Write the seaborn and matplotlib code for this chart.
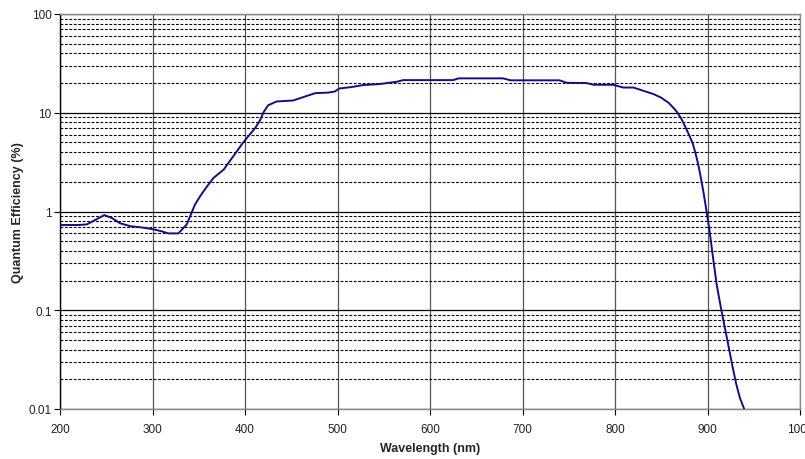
import numpy as np
import pandas as pd
import matplotlib
matplotlib.use("Agg")
import matplotlib.pyplot as plt
import seaborn as sns
from matplotlib.ticker import LogLocator, FixedLocator, FixedFormatter, NullFormatter

wavelength = [200, 210, 220, 229, 238, 248, 256, 265, 276, 288, 301, 310, 317, 328, 337,
              346, 352, 359, 366, 377, 388, 398, 405, 411, 416, 420, 425, 434, 445, 452,
              462, 476, 490, 497, 502, 515, 528, 545, 564, 571, 600, 625, 631, 660, 679,
              687, 710, 740, 748, 769, 777, 798, 809, 820, 834, 842, 850, 858, 864, 868,
              872, 876, 880, 884, 887, 890, 893, 896, 899, 902, 906, 910, 915, 919, 923,
              927, 931, 935, 940]
qe = [0.73, 0.73, 0.73, 0.74, 0.82, 0.92, 0.86, 0.76, 0.71, 0.69, 0.66, 0.63, 0.60, 0.60, 0.74,
      1.18, 1.45, 1.80, 2.19, 2.66, 3.70, 5.0, 6.0, 7.0, 8.3, 10.1, 11.9, 13.0, 13.2, 13.3,
      14.3, 15.8, 16.0, 16.4, 17.6, 18.2, 19.1, 19.5, 20.6, 21.4, 21.4, 21.4, 22.3, 22.3, 22.3,
      21.3, 21.3, 21.3, 20.1, 20.0, 19.2, 19.2, 18.0, 18.0, 16.3, 15.4, 14.2, 12.6, 11.0, 9.9,
      8.6, 7.2, 6.0, 4.9, 3.9, 3.0, 2.15, 1.5, 1.0, 0.66, 0.34, 0.18, 0.10, 0.065, 0.042,
      0.027, 0.018, 0.013, 0.0098]

x_ticks = [200, 300, 400, 500, 600, 700, 800, 900, 1000]
y_ticks = [0.01, 0.1, 1, 10, 100]
y_tick_labels = ["0.01", "0.1", "1", "10", "100"]

df = pd.DataFrame({"Wavelength (nm)": wavelength, "Quantum Efficiency (%)": qe})

sns.set_style("white")
plt.rcParams["font.family"] = ["Liberation Sans", "DejaVu Sans"]

fig = plt.figure(figsize=(8.05, 4.6), dpi=100)
ax = fig.add_axes([60 / 805, 1 - 410 / 460, 740 / 805, 395 / 460])

sns.lineplot(data=df, x="Wavelength (nm)", y="Quantum Efficiency (%)", ax=ax,
             color="#101080", linewidth=1.4, zorder=5)

ax.set_yscale("log")
ax.set_xlim(200, 1000)
ax.set_ylim(0.01, 100)

ax.xaxis.set_major_locator(FixedLocator(x_ticks))
ax.yaxis.set_major_locator(FixedLocator(y_ticks))
ax.yaxis.set_major_formatter(FixedFormatter(y_tick_labels))
ax.yaxis.set_minor_locator(LogLocator(base=10, subs=np.arange(2, 10)))
ax.yaxis.set_minor_formatter(NullFormatter())

ax.grid(True, which="major", axis="x", color="#555555", linewidth=0.9, linestyle="-")
ax.grid(True, which="major", axis="y", color="#000000", linewidth=0.9, linestyle="-")
ax.grid(True, which="minor", axis="y", color="#000000", linewidth=0.8, linestyle=(0, (2.5, 1.5)))
ax.set_axisbelow(True)

ax.tick_params(axis="both", which="major", direction="out", length=4, width=0.8,
               labelsize=8.5, colors="#000000", labelcolor="#222222",
               left=True, bottom=True)
ax.tick_params(axis="x", which="major", pad=6)
ax.tick_params(axis="y", which="major", pad=2)
ax.tick_params(axis="y", which="minor", length=0)

for name, sp in ax.spines.items():
    sp.set_color("#888888")
    sp.set_linewidth(1.0)
ax.spines["left"].set_color("#000000")

ax.set_xlabel("Wavelength (nm)", fontsize=9, fontweight="bold", labelpad=5)
ax.set_ylabel("Quantum Efficiency (%)", fontsize=9, fontweight="bold", labelpad=3)

fig.savefig("out.png", dpi=100, facecolor="white")
